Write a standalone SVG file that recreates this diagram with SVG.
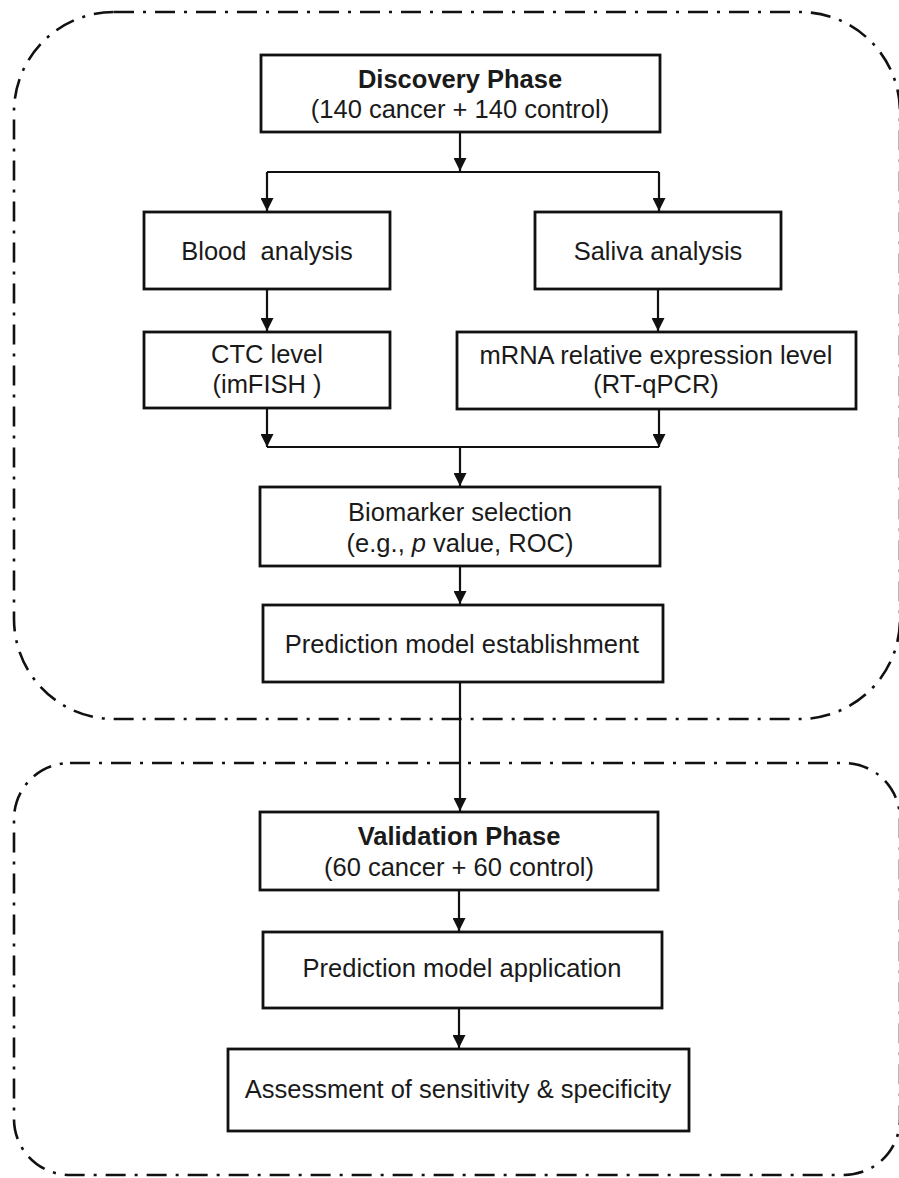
<svg xmlns="http://www.w3.org/2000/svg" width="899" height="1178" viewBox="0 0 899 1178">
<defs>
<style>
.phase{fill:none;stroke:#111;stroke-width:2.6;stroke-dasharray:20 9 3 9}
.box{fill:#fff;stroke:#111;stroke-width:2.8}
.t{font-family:"Liberation Sans",Arial,Helvetica,sans-serif;font-size:25.5px;fill:#1a1a1a;text-anchor:middle}
.b{font-weight:bold}
.c{fill:none;stroke:#111;stroke-width:2.2}
</style>
<marker id="ah" markerUnits="userSpaceOnUse" markerWidth="13" markerHeight="13" refX="12" refY="6" orient="auto" viewBox="0 0 12 12">
<path d="M0,0 L12,6 L0,12 z" fill="#111"/>
</marker>
</defs>
<rect width="899" height="1178" fill="#fff"/>
<g id="discovery-region">
<rect class="phase" x="14" y="12" width="886" height="707" rx="100" ry="100"/>
</g>
<g id="validation-region">
<rect class="phase" x="14" y="763" width="886" height="412" rx="56" ry="56"/>
</g>
<g id="connectors">
<path class="c" d="M460,132 V171" marker-end="url(#ah)"/>
<path class="c" d="M267,172 H659"/>
<path class="c" d="M267,172 V211" marker-end="url(#ah)"/>
<path class="c" d="M659,172 V211" marker-end="url(#ah)"/>
<path class="c" d="M267,289 V331" marker-end="url(#ah)"/>
<path class="c" d="M658,289 V331" marker-end="url(#ah)"/>
<path class="c" d="M267,408 V447" marker-end="url(#ah)"/>
<path class="c" d="M659,409 V447" marker-end="url(#ah)"/>
<path class="c" d="M267,447 H659"/>
<path class="c" d="M460,447 V486" marker-end="url(#ah)"/>
<path class="c" d="M460,566 V604" marker-end="url(#ah)"/>
<path class="c" d="M460,682 V811" marker-end="url(#ah)"/>
<path class="c" d="M459,890 V931" marker-end="url(#ah)"/>
<path class="c" d="M459,1008 V1048" marker-end="url(#ah)"/>
</g>
<g id="discovery">
<rect class="box" x="261" y="55" width="399" height="77"/>
<text class="t b" x="460" y="88">Discovery Phase</text>
<text class="t" x="460" y="118">(140 cancer + 140 control)</text>
</g>
<g id="blood">
<rect class="box" x="144" y="212" width="246" height="77"/>
<text class="t" x="267" y="260" xml:space="preserve">Blood  analysis</text>
</g>
<g id="saliva">
<rect class="box" x="535" y="212" width="246" height="77"/>
<text class="t" x="658" y="260">Saliva analysis</text>
</g>
<g id="ctc">
<rect class="box" x="144" y="332" width="246" height="76"/>
<text class="t" x="267" y="363">CTC level</text>
<text class="t" x="267" y="393">(imFISH )</text>
</g>
<g id="mrna">
<rect class="box" x="457" y="332" width="399" height="77"/>
<text class="t" x="656" y="364">mRNA relative expression level</text>
<text class="t" x="656" y="393">(RT-qPCR)</text>
</g>
<g id="biomarker">
<rect class="box" x="260" y="487" width="400" height="79"/>
<text class="t" x="460" y="521">Biomarker selection</text>
<text class="t" x="460" y="552">(e.g., <tspan font-style="italic">p</tspan> value, ROC)</text>
</g>
<g id="model-establishment">
<rect class="box" x="263" y="605" width="400" height="77"/>
<text class="t" x="462" y="653">Prediction model establishment</text>
</g>
<g id="validation">
<rect class="box" x="260" y="812" width="398" height="78"/>
<text class="t b" x="459" y="845">Validation Phase</text>
<text class="t" x="459" y="876">(60 cancer + 60 control)</text>
</g>
<g id="model-application">
<rect class="box" x="263" y="932" width="399" height="76"/>
<text class="t" x="462" y="977">Prediction model application</text>
</g>
<g id="assessment">
<rect class="box" x="228" y="1049" width="461" height="82"/>
<text class="t" x="458" y="1098">Assessment of sensitivity &amp; specificity</text>
</g>
</svg>
